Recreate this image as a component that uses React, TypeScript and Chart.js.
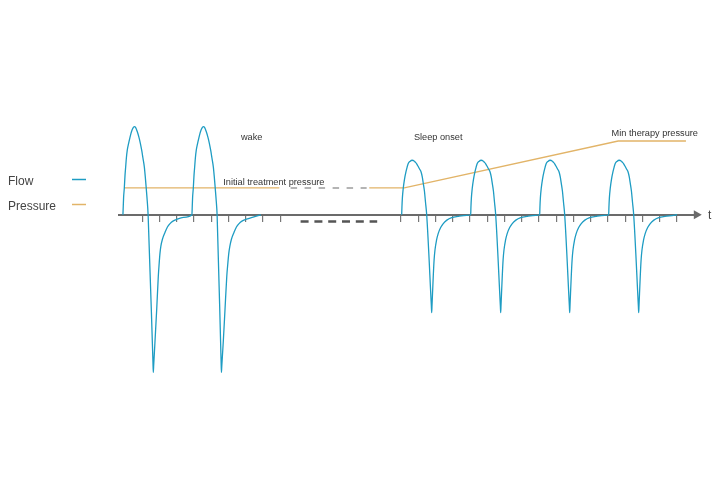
import { useEffect, useRef } from 'react';
import { Chart, registerables } from 'chart.js';

Chart.register(...registerables);

type Pt = [number, number];

// Time is in breath-clock ticks, flow in L/s, pressure in cmH2O.
const wakeBreath1: Pt[] = [
  [-0.12, 0], [-0.1, 0.09], [-0.08, 0.18], [-0.04, 0.273], [0, 0.4], [0.04, 0.49], [0.08, 0.58],
  [0.13, 0.657], [0.21, 0.73], [0.29, 0.79], [0.37, 0.845], [0.46, 0.885], [0.54, 0.9],
  [0.62, 0.89], [0.71, 0.85], [0.81, 0.79], [0.89, 0.73], [0.97, 0.657], [1.04, 0.58],
  [1.12, 0.49], [1.18, 0.38], [1.23, 0.273], [1.29, 0.14], [1.34, 0], [1.62, -1.5],
  [1.64, -1.61], [1.66, -1.55], [1.74, -1.29], [1.84, -0.96], [1.93, -0.63], [1.98, -0.5],
  [2.03, -0.39], [2.08, -0.32], [2.17, -0.25], [2.32, -0.18], [2.46, -0.125], [2.61, -0.09],
  [2.78, -0.065], [2.99, -0.048], [3.38, -0.027],
];
const wakeBreath2: Pt[] = [
  [3.88, 0], [3.9, 0.09], [3.92, 0.18], [3.96, 0.273], [4.0, 0.4], [4.04, 0.49], [4.08, 0.58],
  [4.13, 0.657], [4.21, 0.73], [4.29, 0.79], [4.37, 0.845], [4.46, 0.885], [4.54, 0.9],
  [4.62, 0.89], [4.71, 0.85], [4.81, 0.79], [4.89, 0.73], [4.97, 0.657], [5.04, 0.58],
  [5.12, 0.49], [5.18, 0.38], [5.23, 0.273], [5.29, 0.14], [5.34, 0], [5.57, -1.49],
  [5.59, -1.61], [5.61, -1.55], [5.7, -1.29], [5.8, -0.96], [5.9, -0.63], [5.96, -0.5],
  [6.02, -0.39], [6.08, -0.32], [6.17, -0.25], [6.32, -0.18], [6.46, -0.125], [6.61, -0.09],
  [6.78, -0.065], [6.99, -0.048], [7.38, -0.027], [7.88, 0],
];
const sleepBreath1: Pt[] = [
  [16.04, 0], [16.055, 0.08], [16.08, 0.17], [16.13, 0.27], [16.2, 0.36], [16.29, 0.44],
  [16.36, 0.49], [16.42, 0.523], [16.52, 0.545], [16.65, 0.557], [16.76, 0.55], [16.84, 0.535],
  [16.91, 0.52], [16.99, 0.495], [17.08, 0.465], [17.16, 0.44], [17.23, 0.39], [17.29, 0.323],
  [17.36, 0.24], [17.42, 0.13], [17.49, 0], [17.76, -0.93], [17.78, -1.0], [17.8, -0.92],
  [17.87, -0.63], [17.92, -0.46], [17.97, -0.36], [18.06, -0.26], [18.16, -0.19], [18.3, -0.13],
  [18.45, -0.09], [18.66, -0.055], [18.94, -0.03], [19.3, -0.017], [19.81, -0.006],
];
const sleepBreath2: Pt[] = [
  [20.04, 0], [20.055, 0.08], [20.08, 0.17], [20.13, 0.27], [20.2, 0.36], [20.29, 0.44],
  [20.36, 0.49], [20.42, 0.523], [20.52, 0.545], [20.65, 0.557], [20.76, 0.55], [20.84, 0.535],
  [20.91, 0.52], [20.99, 0.495], [21.08, 0.465], [21.16, 0.44], [21.23, 0.39], [21.29, 0.323],
  [21.36, 0.24], [21.42, 0.13], [21.49, 0], [21.76, -0.93], [21.78, -1.0], [21.8, -0.92],
  [21.87, -0.63], [21.92, -0.46], [21.97, -0.36], [22.06, -0.26], [22.16, -0.19], [22.3, -0.13],
  [22.45, -0.09], [22.66, -0.055], [22.94, -0.03], [23.3, -0.017], [23.81, -0.006],
];
const sleepBreath3: Pt[] = [
  [24.04, 0], [24.055, 0.08], [24.08, 0.17], [24.13, 0.27], [24.2, 0.36], [24.29, 0.44],
  [24.36, 0.49], [24.42, 0.523], [24.52, 0.545], [24.65, 0.557], [24.76, 0.55], [24.84, 0.535],
  [24.91, 0.52], [24.99, 0.495], [25.08, 0.465], [25.16, 0.44], [25.23, 0.39], [25.29, 0.323],
  [25.36, 0.24], [25.42, 0.13], [25.49, 0], [25.76, -0.93], [25.78, -1.0], [25.8, -0.92],
  [25.87, -0.63], [25.92, -0.46], [25.97, -0.36], [26.06, -0.26], [26.16, -0.19], [26.3, -0.13],
  [26.45, -0.09], [26.66, -0.055], [26.94, -0.03], [27.3, -0.017], [27.81, -0.006],
];
const sleepBreath4: Pt[] = [
  [28.04, 0], [28.055, 0.08], [28.08, 0.17], [28.13, 0.27], [28.2, 0.36], [28.29, 0.44],
  [28.36, 0.49], [28.42, 0.523], [28.52, 0.545], [28.65, 0.557], [28.76, 0.55], [28.84, 0.535],
  [28.91, 0.52], [28.99, 0.495], [29.08, 0.465], [29.16, 0.44], [29.23, 0.39], [29.29, 0.323],
  [29.36, 0.24], [29.42, 0.13], [29.49, 0], [29.76, -0.93], [29.78, -1.0], [29.8, -0.92],
  [29.87, -0.63], [29.92, -0.46], [29.97, -0.36], [30.06, -0.26], [30.16, -0.19], [30.3, -0.13],
  [30.45, -0.09], [30.66, -0.055], [30.94, -0.03], [31.3, -0.017], [31.81, -0.006], [32.0, 0],
];

// Pressure: initial treatment level while awake, ramping to the minimum therapy level after sleep onset.
const pressureWake: Pt[] = [[-0.04, 4], [8.95, 4]];
const pressureSleep: Pt[] = [[14.16, 4], [16.19, 4], [28.59, 11], [32.52, 11]];
// Elided stretch of time: dashed pressure level and dashed break on the time axis.
const pressureElided: Pt[] = [[9.6, 4], [14.01, 4]];
const timeElided: Pt[] = [[10.18, -0.07], [14.62, -0.07]];
const axisArrow: Pt[] = [[33.13, 0]];

const tickTimes = [1, 2, 3, 4, 5, 6, 7, 8, 9, 16, 17, 18, 19, 20, 21, 22, 23, 24, 25, 26, 27, 28, 29, 30, 31, 32];
const seriesNames = ['Flow', 'Pressure'];
const axisTitle = 't';

type Note = { text: string; t: number; axis: 'y' | 'p'; v: number };
const notes: Note[] = [
  { text: 'wake', t: 6.72, axis: 'y', v: 0.76 },
  { text: 'Sleep onset', t: 16.75, axis: 'y', v: 0.76 },
  { text: 'Initial treatment pressure', t: 5.7, axis: 'p', v: 4.48 },
  { text: 'Min therapy pressure', t: 28.21, axis: 'p', v: 11.75 },
];

const FLOW_COLOR = '#1e9cc3';
const PRESSURE_COLOR = '#e2b468';
const AXIS_COLOR = '#6b6b6b';
const TEXT_COLOR = '#333333';
const FONT = '"Liberation Sans", Arial, sans-serif';

const toXY = (pts: Pt[]) => pts.map(([x, y]) => ({ x, y }));

const annotationPlugin = {
  id: 'flowNotes',
  afterDraw(chart: any) {
    const { ctx, scales } = chart;
    const xs = scales.x;
    ctx.save();
    ctx.fillStyle = TEXT_COLOR;
    ctx.textBaseline = 'alphabetic';
    ctx.textAlign = 'left';
    ctx.font = `9.2px ${FONT}`;
    for (const n of notes) {
      const ys = scales[n.axis];
      ctx.fillText(n.text, xs.getPixelForValue(n.t), ys.getPixelForValue(n.v));
    }
    // time axis title past the arrow head
    ctx.fillStyle = '#444444';
    ctx.font = `12px ${FONT}`;
    ctx.fillText(axisTitle, xs.right + 11, scales.y.getPixelForValue(0) + 4);

    // legend: name on the left, line sample on the right
    const colors = [FLOW_COLOR, PRESSURE_COLOR];
    seriesNames.forEach((name, i) => {
      const base = 185 + i * 25;
      ctx.fillStyle = '#444444';
      ctx.font = `12px ${FONT}`;
      ctx.fillText(name, 8, base);
      ctx.strokeStyle = colors[i];
      ctx.lineWidth = 1.5;
      ctx.beginPath();
      ctx.moveTo(72, base - 5.5);
      ctx.lineTo(86, base - 5.5);
      ctx.stroke();
    });
    ctx.restore();
  },
};

export default function App() {
  const canvasRef = useRef<HTMLCanvasElement | null>(null);

  useEffect(() => {
    const canvas = canvasRef.current;
    if (!canvas) return;
    const flowLine = {
      borderColor: FLOW_COLOR,
      borderWidth: 1.3,
      pointRadius: 0,
      cubicInterpolationMode: 'monotone' as const,
      yAxisID: 'y',
    };
    const chart = new Chart(canvas, {
      type: 'line',
      data: {
        datasets: [
          { ...flowLine, label: seriesNames[0], data: toXY([...wakeBreath1, ...wakeBreath2]) },
          {
            ...flowLine,
            label: seriesNames[0],
            data: toXY([...sleepBreath1, ...sleepBreath2, ...sleepBreath3, ...sleepBreath4]),
          },
          {
            label: seriesNames[1],
            data: [...toXY(pressureWake), { x: 11, y: null as any }, ...toXY(pressureSleep)],
            borderColor: PRESSURE_COLOR,
            borderWidth: 1.3,
            pointRadius: 0,
            tension: 0,
            spanGaps: false,
            yAxisID: 'p',
          },
          {
            label: 'elided pressure',
            data: toXY(pressureElided),
            borderColor: '#9c9c9c',
            borderWidth: 1.5,
            borderDash: [6.5, 7.5],
            pointRadius: 0,
            yAxisID: 'p',
          },
          {
            label: 'elided time',
            data: toXY(timeElided),
            borderColor: '#555555',
            borderWidth: 2.5,
            borderDash: [8, 5.8],
            pointRadius: 0,
            yAxisID: 'y',
          },
          {
            label: 'arrow',
            data: toXY(axisArrow),
            showLine: false,
            pointStyle: 'triangle',
            pointRadius: 5.3,
            rotation: 90,
            backgroundColor: AXIS_COLOR,
            borderColor: AXIS_COLOR,
            borderWidth: 0,
            clip: false as any,
            yAxisID: 'y',
          } as any,
        ],
      },
      options: {
        responsive: false,
        animation: false,
        events: [],
        layout: { padding: { left: 118.7, right: 23, top: 0, bottom: 0 } },
        plugins: { legend: { display: false }, tooltip: { enabled: false } },
        scales: {
          x: {
            type: 'linear',
            min: -0.365,
            max: 33.16,
            position: { y: 0 } as any,
            afterBuildTicks: (scale: any) => {
              scale.ticks = tickTimes.map((value) => ({ value }));
            },
            ticks: { display: false },
            grid: {
              drawOnChartArea: false,
              drawTicks: true,
              tickLength: 6,
              color: '#777777',
              lineWidth: 1.2,
            },
            border: { display: true, color: AXIS_COLOR, width: 2 },
          },
          y: { type: 'linear', min: -2.86, max: 2.14, display: false },
          p: { type: 'linear', min: -41.75, max: 31.24, display: false },
        },
      },
      plugins: [annotationPlugin],
    });
    return () => chart.destroy();
  }, []);

  return (
    <div style={{ position: 'fixed', left: 0, top: 0, width: 720, height: 500, background: '#fff' }}>
      <canvas ref={canvasRef} width={720} height={500} style={{ display: 'block' }} />
    </div>
  );
}
